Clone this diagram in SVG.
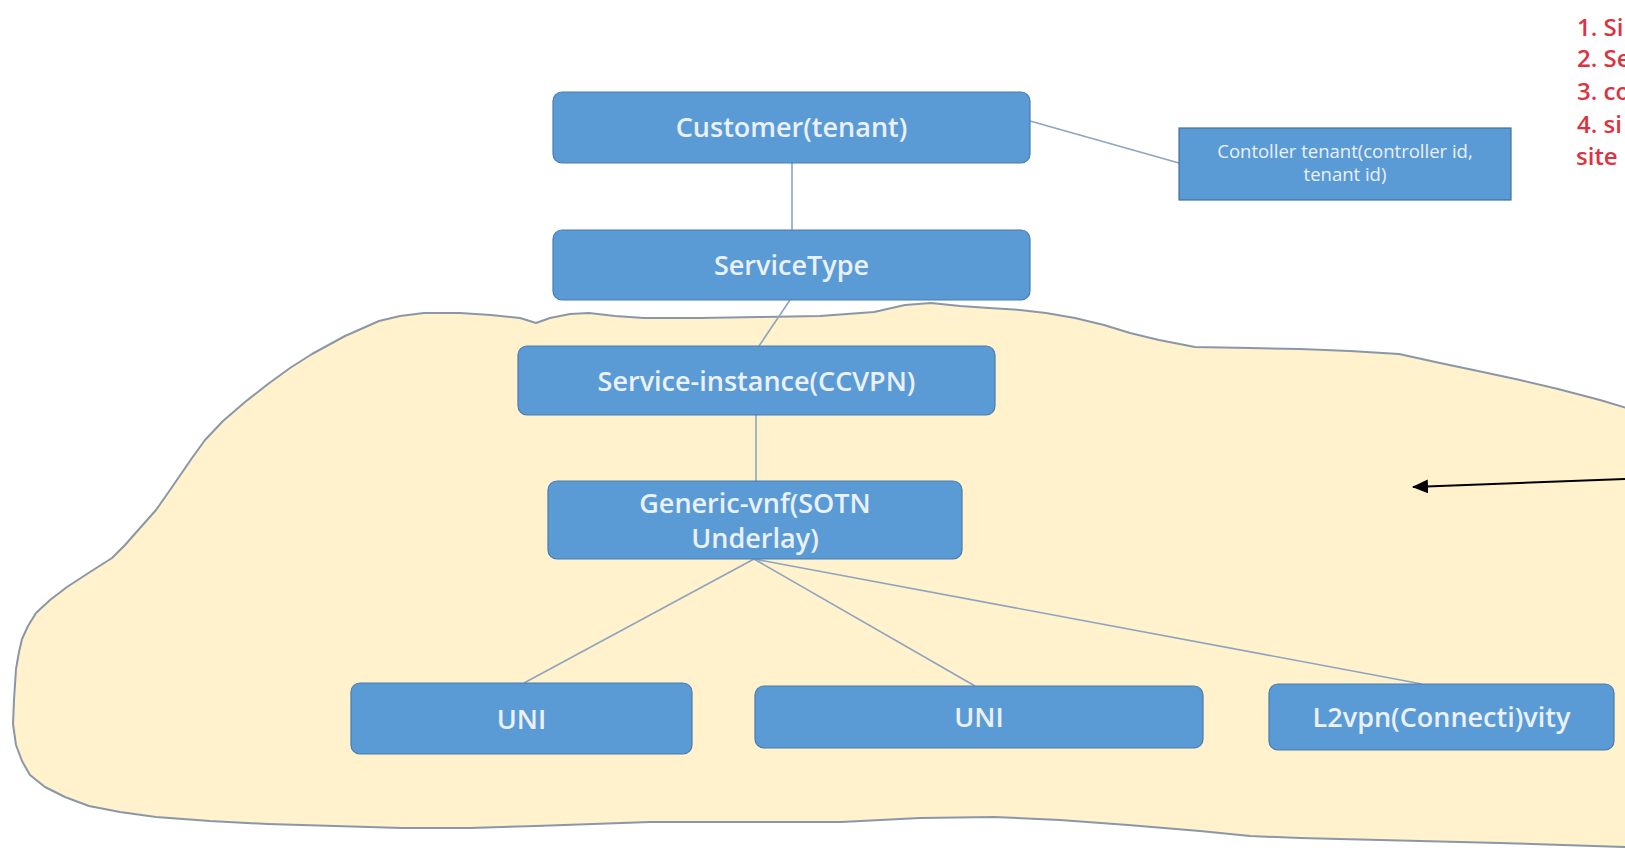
<svg xmlns="http://www.w3.org/2000/svg" width="1625" height="859" viewBox="0 0 1625 859">
  <style>
    .box { fill: #5b9bd5; stroke: #4a7bb0; stroke-width: 1.2; }
    .sq { fill: #5b9bd5; stroke: #41719c; stroke-width: 1.2; }
    .t { font-family: "Open Sans", "Liberation Sans", sans-serif; font-size: 27px; font-weight: 600; fill: #eaf1fa; text-anchor: middle; }
    .ts { font-family: "Open Sans", "Liberation Sans", sans-serif; font-size: 18.5px; font-weight: 400; fill: #eaf1fa; text-anchor: middle; }
    .conn { stroke: #8ea4bf; stroke-width: 1.6; fill: none; }
    .cloud { fill: #fff2cc; stroke: #8a97a8; stroke-width: 2; stroke-linejoin: round; }
    .red { font-family: "Open Sans", "Liberation Sans", sans-serif; font-size: 24px; font-weight: 600; fill: #dd3340; }
  </style>
  <defs>
    <marker id="ah" viewBox="0 0 16 14" refX="15" refY="7" markerWidth="16" markerHeight="14" markerUnits="userSpaceOnUse" orient="auto">
      <path d="M0,0 L16,7 L0,14 Z" fill="#000"/>
    </marker>
  </defs>
  <rect width="1625" height="859" fill="#ffffff"/>

  <path id="cloud" class="cloud" d="M13,724 L14,700 L16,669 L19,652 L22,639 L28,626 L36,613 L50,600 L67,587 L90,572 L112,558 L125,545 L140,528 L156,510 L170,490 L192,458 L205,440 L223,421 L245,402 L268,384 L290,368 L312,354 L345,336 L379,321 L400,316 L424,313 L460,313 L491,315 L520,318 L536,323 L550,318 L570,314 L589,313 L615,316 L644,318 L700,318 L759,317 L820,316 L874,312 L905,305 L931,303 L960,306 L989,308 L1020,310 L1046,313 L1075,318 L1104,325 L1130,333 L1159,340 L1195,347 L1250,348 L1300,349 L1350,351 L1399,354 L1440,363 L1478,371 L1520,380 L1558,389 L1600,400 L1640,412 L1640,850 L1625,847 L1500,843 L1380,840 L1300,838 L1250,836 L1200,831 L1128,825 L1060,820 L994,817 L920,818 L841,822 L750,822 L650,822 L536,826 L470,828 L402,828 L335,826 L268,824 L210,821 L156,817 L120,812 L89,806 L65,797 L45,787 L30,775 L22,761 L16,745 Z"/>

  <g id="connectors">
    <line class="conn" x1="1030" y1="121" x2="1179" y2="163"/>
    <line class="conn" x1="792" y1="163" x2="792" y2="230"/>
    <line class="conn" x1="790" y1="300" x2="759" y2="346"/>
    <line class="conn" x1="756" y1="415" x2="756" y2="481"/>
    <line class="conn" x1="754" y1="559" x2="524" y2="683"/>
    <line class="conn" x1="754" y1="559" x2="975" y2="686"/>
    <line class="conn" x1="754" y1="559" x2="1422" y2="684"/>
  </g>

  <g id="customer">
    <rect class="box" x="553" y="92" width="477" height="71" rx="9"/>
    <text class="t" x="791.5" y="137">Customer(tenant)</text>
  </g>
  <g id="controller-tenant">
    <rect class="sq" x="1179" y="128" width="332" height="72"/>
    <text class="ts" x="1345" y="158">Contoller tenant(controller id,</text>
    <text class="ts" x="1345" y="181">tenant id)</text>
  </g>
  <g id="service-type">
    <rect class="box" x="553" y="230" width="477" height="70" rx="9"/>
    <text class="t" x="791.5" y="275">ServiceType</text>
  </g>
  <g id="service-instance">
    <rect class="box" x="518" y="346" width="477" height="69" rx="9"/>
    <text class="t" x="756.5" y="391">Service-instance(CCVPN)</text>
  </g>
  <g id="generic-vnf">
    <rect class="box" x="548" y="481" width="414" height="78" rx="9"/>
    <text class="t" x="755" y="513">Generic-vnf(SOTN</text>
    <text class="t" x="755" y="548">Underlay)</text>
  </g>
  <g id="uni-1">
    <rect class="box" x="351" y="683" width="341" height="71" rx="9"/>
    <text class="t" x="521.5" y="729">UNI</text>
  </g>
  <g id="uni-2">
    <rect class="box" x="755" y="686" width="448" height="62" rx="9"/>
    <text class="t" x="979" y="727">UNI</text>
  </g>
  <g id="l2vpn">
    <rect class="box" x="1269" y="684" width="345" height="66" rx="9"/>
    <text class="t" x="1441.5" y="727">L2vpn(Connecti)vity</text>
  </g>

  <g id="arrow">
    <line x1="1625" y1="479" x2="1413" y2="487" stroke="#000" stroke-width="2" marker-end="url(#ah)"/>
  </g>

  <g id="notes">
    <text class="red" x="1577" y="36">1. Si</text>
    <text class="red" x="1577" y="67">2. Se</text>
    <text class="red" x="1577" y="100">3. co</text>
    <text class="red" x="1577" y="133">4. si</text>
    <text class="red" x="1576" y="165">site</text>
  </g>
</svg>
